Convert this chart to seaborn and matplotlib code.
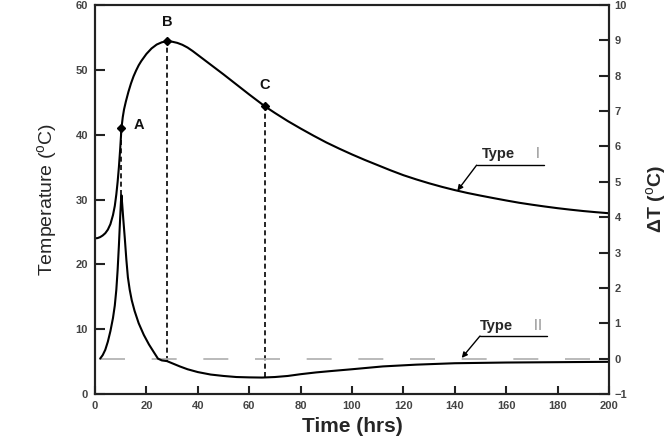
import numpy as np
import pandas as pd
import matplotlib
matplotlib.use("Agg")
import matplotlib.pyplot as plt
import seaborn as sns

# ---- data ----
t_type1 = [0, 1, 2, 3, 4, 5, 6, 7, 7.7, 8.3, 8.8, 9.3, 9.8, 10.3, 10.8, 11.3, 12, 13, 14,
           15, 16, 17, 18, 20, 22, 24, 26, 28, 30, 32, 34, 36, 38, 40, 45, 50, 55, 60,
           66, 70, 75, 80, 85, 90, 95, 100, 105, 110, 115, 120, 125, 130, 135, 140, 145,
           150, 155, 160, 165, 170, 175, 180, 185, 190, 195, 200]
temp_type1 = [24.0, 24.05, 24.2, 24.45, 24.8, 25.35, 26.2, 27.6, 29.0, 30.8, 32.7, 35.0,
              37.8, 41.0, 42.7, 43.9, 45.1, 46.6, 47.9, 49.0, 49.9, 50.7, 51.35, 52.45,
              53.3, 53.9, 54.25, 54.4, 54.34, 54.16, 53.86, 53.44, 52.9, 52.3, 50.8, 49.3,
              47.75, 46.2, 44.4, 43.35, 42.1, 40.95, 39.85, 38.8, 37.85, 36.95, 36.1, 35.3,
              34.5, 33.75, 33.1, 32.5, 31.95, 31.45, 31.0, 30.6, 30.22, 29.85, 29.5, 29.2,
              28.92, 28.66, 28.43, 28.22, 28.04, 27.88]

t_type2 = [2, 3, 4, 5, 6, 7, 7.7, 8.3, 8.8, 9.3, 9.8, 10.1, 10.3, 10.6, 11, 11.6, 12.2,
           12.8, 13.5, 14.3, 15.4, 17, 19, 21, 23, 24.5, 26, 28, 30, 33, 36, 40, 45, 50,
           55, 60, 65, 70, 75, 80, 86, 92, 100, 112, 125, 140, 160, 180, 200]
dT_type2 = [0.0, 0.1, 0.25, 0.48, 0.78, 1.15, 1.5, 1.95, 2.5, 3.2, 4.0, 4.45, 4.62, 4.35,
            3.95, 3.4, 2.8, 2.3, 1.95, 1.65, 1.35, 1.0, 0.67, 0.4, 0.17, 0.0, -0.05, -0.07,
            -0.13, -0.22, -0.3, -0.38, -0.45, -0.49, -0.52, -0.53, -0.535, -0.52, -0.49,
            -0.44, -0.39, -0.35, -0.3, -0.22, -0.17, -0.13, -0.11, -0.1, -0.09]

point_labels = ["A", "B", "C"]
point_times = [10.3, 28, 66]

x_ticks = list(range(0, 201, 20))
y_ticks_left = list(range(0, 61, 10))
y_ticks_right = list(range(-1, 11, 1))

# ---- style ----
sns.set_theme(style="ticks")
plt.rcParams["font.family"] = ["Liberation Sans", "Noto Sans CJK SC", "DejaVu Sans"]
plt.rcParams["mathtext.fontset"] = "custom"
plt.rcParams["mathtext.rm"] = "Liberation Sans"
plt.rcParams["lines.scale_dashes"] = False

fig = plt.figure(figsize=(6.7, 4.38), dpi=100)
ax = fig.add_axes([95 / 670, 44 / 438, 514 / 670, 389 / 438])
ax2 = ax.twinx()

df1 = pd.DataFrame({"t": t_type1, "T": temp_type1})
df2 = pd.DataFrame({"t": t_type2, "dT": dT_type2})

sns.lineplot(data=df1, x="t", y="T", ax=ax, color="black", lw=1.5, sort=False)
sns.lineplot(data=df2, x="t", y="dT", ax=ax2, color="black", lw=1.5, sort=False)

ax.set_xlim(0, 200)
ax.set_ylim(0, 60)
ax2.set_ylim(-1, 10)

def right_to_left(v):
    return (v + 1) * 60.0 / 11.0

# grey dashed zero line for ΔT
ax2.plot([t_type2[0], 200], [0, 0], color="#b4b4b4", lw=1.3,
         linestyle=(0, (18, 19.2)), zorder=1)

# marked points and vertical dashed drops
offsets = {"A": (9, 2), "B": (0, 9), "C": (0, 10)}
for lab, tp in zip(point_labels, point_times):
    yT = np.interp(tp, t_type1, temp_type1)
    yd = right_to_left(np.interp(tp, t_type2, dT_type2))
    ax.plot([tp, tp], [yd, yT], color="black", lw=1.2, linestyle=(0, (3.6, 2.4)), zorder=2)
    ax.plot([tp], [yT], marker="D", ms=4.2, color="black", zorder=4)
    dx, dy = offsets[lab]
    ax.annotate(lab, (tp, yT), xytext=(dx, dy), textcoords="offset points",
                ha="center" if lab != "A" else "left", va="bottom" if lab != "A" else "center",
                fontsize=10.5, fontweight="bold", color="#111111")

# Type I leader
t_arrow1 = 141.0
y_arrow1 = np.interp(t_arrow1, t_type1, temp_type1)
ax.plot([148.5, 174.7], [35.3, 35.3], color="black", lw=1.0)
ax.annotate("", xy=(t_arrow1, y_arrow1), xytext=(148.5, 35.3),
            arrowprops=dict(arrowstyle="-|>", color="black", lw=1.0,
                            mutation_scale=8, shrinkA=0, shrinkB=0))
ax.text(150.5, 35.9, "Type", fontsize=10.5, fontweight="bold", ha="left", va="bottom")
ax.text(169.5, 35.9, "Ⅰ", fontsize=10, color="#8c8c8c", ha="left", va="bottom",
        family=["Noto Sans CJK SC", "DejaVu Sans"])

# Type II leader
t_arrow2 = 142.7
y_arrow2 = 0.02
ax2.plot([149.8, 176], [0.64, 0.64], color="black", lw=1.0)
ax2.annotate("", xy=(t_arrow2, y_arrow2), xytext=(149.8, 0.64),
             arrowprops=dict(arrowstyle="-|>", color="black", lw=1.0,
                             mutation_scale=8, shrinkA=0, shrinkB=0))
ax2.text(149.8, 0.72, "Type", fontsize=10.5, fontweight="bold", ha="left", va="bottom")
ax2.text(169.5, 0.72, "Ⅱ", fontsize=10, color="#8c8c8c", ha="left", va="bottom",
         family=["Noto Sans CJK SC", "DejaVu Sans"])

# ticks and spines
ax.set_xticks(x_ticks)
ax.set_yticks(y_ticks_left)
ax2.set_yticks(y_ticks_right)
for a in (ax, ax2):
    for s in a.spines.values():
        s.set_linewidth(1.5)
        s.set_color("#222222")
ax.tick_params(axis="x", direction="in", length=6, width=1.5, pad=5,
               labelsize=8, labelcolor="#444444", color="#222222")
ax.tick_params(axis="y", direction="in", length=7, width=1.5, pad=5,
               labelsize=8, labelcolor="#444444", color="#222222")
ax2.tick_params(axis="y", direction="in", length=7, width=1.5, pad=4,
                labelsize=8, labelcolor="#444444", color="#222222")
for lbl in ax.get_xticklabels() + ax.get_yticklabels() + ax2.get_yticklabels():
    lbl.set_fontweight("bold")

ax.set_xlabel("Time (hrs)", fontsize=15, fontweight="bold", labelpad=4)
ax.set_ylabel(r"Temperature ($^{\mathrm{o}}$C)", fontsize=14, labelpad=11)
ax2.set_ylabel(r"ΔT ($^{\mathrm{o}}$C)", fontsize=14, fontweight="bold", rotation=90,
               labelpad=12)

fig.savefig("out.png", dpi=100)
